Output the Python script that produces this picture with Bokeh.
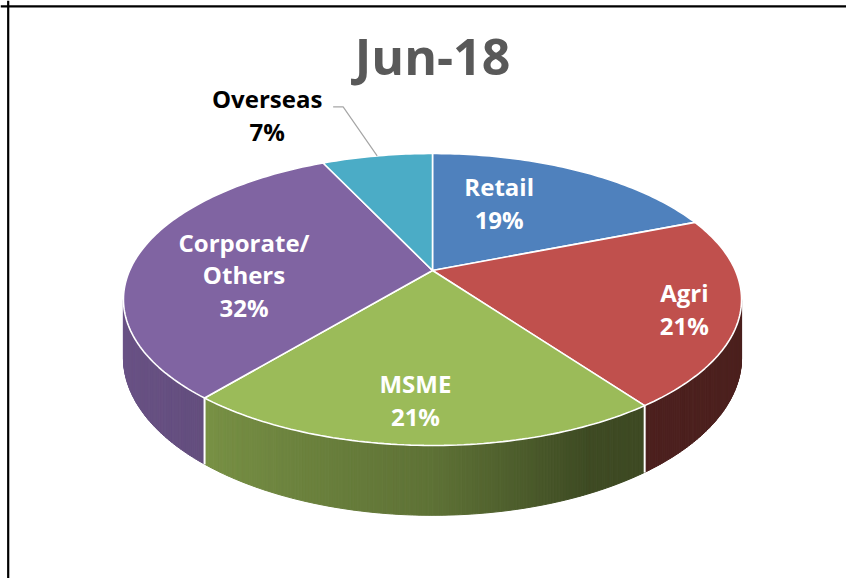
import math
from bokeh.plotting import figure
from bokeh.models import Range1d, Span, ColumnDataSource
from bokeh.core.properties import value
from bokeh.embed import file_html
from bokeh.resources import INLINE

# ---- data ----
title_text = "Jun-18"
categories = ["Retail", "Agri", "MSME", "Corporate/\nOthers", "Overseas"]
shares = [19, 21, 21, 32, 7]
top_colors = ["#4f81bd", "#c0504d", "#9bbb59", "#8064a2", "#4bacc6"]
label_colors = ["white", "white", "white", "white", "black"]

# ---- layout (pixel geometry of the 3-D pie) ----
CX, CY = 432.0, 270.0     # projected centre of the pie
A, B = 302.9, 140.2       # horizontal / vertical projection scale
K = 0.1986                # perspective strength
DEPTH = 56.0              # thickness of the pie
FONT = "Open Sans"
W, H = 846, 578
# label placement: radial factor, extra dx, dy (pixels)
label_place = [(0.50, -12, -14), (0.82, 2, 5), (0.80, -8, -4), (0.62, -5, 15), None]


def proj(theta, f=1.0):
    t = math.radians(theta)
    x, y = f * math.sin(t), f * math.cos(t)
    w = 1 + K * y
    return CX + A * x / w, CY - B * y / w, w


def hex_shade(c, k):
    r, g, b = int(c[1:3], 16), int(c[3:5], 16), int(c[5:7], 16)
    return "#%02x%02x%02x" % (int(r * k), int(g * k), int(b * k))


shade_pts = [(100.0, 0.40), (155.0, 0.40), (180.0, 0.61), (220.0, 0.78), (260.0, 0.84)]


def shade(theta):
    if theta <= shade_pts[0][0]:
        return shade_pts[0][1]
    for (a0, s0), (a1, s1) in zip(shade_pts, shade_pts[1:]):
        if theta <= a1:
            return s0 + (s1 - s0) * (theta - a0) / (a1 - a0)
    return shade_pts[-1][1]


total = float(sum(shares))
starts, ends = [], []
acc = 0.0
for s in shares:
    starts.append(360.0 * acc / total)
    acc += s
    ends.append(360.0 * acc / total)

th_r = math.degrees(math.acos(-K))
th_l = 360.0 - th_r

p = figure(width=W, height=H, x_range=Range1d(0, W), y_range=Range1d(H, 0),
           x_axis_type=None, y_axis_type=None, toolbar_location=None,
           output_backend="svg", min_border=0, outline_line_color=None,
           background_fill_color="white", border_fill_color="white")
p.grid.visible = False

# ---- sides (gradient strips) ----
sx, sy, sc = [], [], []
edge_x, edge_y = [], []
for i, (a0, a1) in enumerate(zip(starts, ends)):
    lo, hi = max(a0, th_r), min(a1, th_l)
    if hi <= lo:
        continue
    n = max(2, int((hi - lo) / 0.5))
    for j in range(n):
        t0 = lo + (hi - lo) * j / n
        t1 = lo + (hi - lo) * (j + 1) / n
        x0, y0, w0 = proj(t0)
        x1, y1, w1 = proj(t1)
        sx.append([x0, x1, x1, x0])
        sy.append([y0, y1, y1 + DEPTH / w1, y0 + DEPTH / w0])
        sc.append(hex_shade(top_colors[i], shade((t0 + t1) / 2)))
    for t in (a0, a1):
        if th_r < t < th_l:
            x0, y0, w0 = proj(t)
            edge_x.append([x0, x0])
            edge_y.append([y0, y0 + DEPTH / w0])

p.patches(sx, sy, fill_color=sc, line_color=sc, line_width=1)
p.multi_line(edge_x, edge_y, line_color="white", line_width=1.6)

# ---- top face ----
tx, ty = [], []
for a0, a1 in zip(starts, ends):
    n = max(4, int((a1 - a0) / 1.0))
    xs, ys = [CX], [CY]
    for j in range(n + 1):
        x, y, _ = proj(a0 + (a1 - a0) * j / n)
        xs.append(x)
        ys.append(y)
    tx.append(xs)
    ty.append(ys)
p.patches(tx, ty, fill_color=top_colors, line_color="white", line_width=1.6)

# ---- labels ----
lx, ly, lt, lc = [], [], [], []
LH = 32.5
for i, cat in enumerate(categories):
    mid = (starts[i] + ends[i]) / 2
    pl = label_place[i]
    lines = cat.split("\n") + ["%d%%" % shares[i]]
    if pl is None:
        # outside label with leader line
        rx, ry, _ = proj(mid, 1.0)
        cx_, cy_ = rx - 110, ry - 41
        p.line([cx_ + 66, cx_ + 76, rx], [cy_ - 8, cy_ - 8, ry], line_color="#a6a6a6", line_width=1.2)
    else:
        f, dx, dy = pl
        cx_, cy_, _ = proj(mid, f)
        cx_ += dx
        cy_ += dy
    nl = len(lines)
    for k, t in enumerate(lines):
        lx.append(cx_)
        ly.append(cy_ + (k - (nl - 1) / 2) * LH)
        lt.append(t)
        lc.append(label_colors[i])

src = ColumnDataSource(dict(x=lx, y=ly, t=lt, c=lc))
p.text("x", "y", text="t", source=src, text_color="c", text_font=value(FONT),
       text_font_style="bold", text_font_size="24px", text_align="center",
       text_baseline="middle")

# ---- title ----
p.text([CX], [55], text=[title_text], text_color="#595959", text_font=value(FONT),
       text_font_style="bold", text_font_size="50px", text_align="center",
       text_baseline="middle")

# ---- frame (left and top edges of chart border) ----
p.add_layout(Span(location=7.7, dimension="height", line_color="black", line_width=2.2))
p.add_layout(Span(location=5.8, dimension="width", line_color="black", line_width=2.2))

open("out.html", "w").write(file_html(p, INLINE))
